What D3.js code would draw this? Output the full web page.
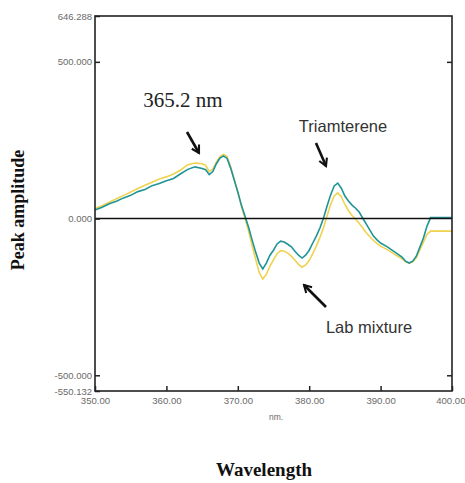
<!DOCTYPE html>
<html><head><meta charset="utf-8">
<script src="https://cdn.jsdelivr.net/npm/d3@7"></script>
<style>body{margin:0;background:#fff}</style>
</head><body>
<svg id="c" width="465" height="483"></svg>
<script>
const wavelengths=[350,351,352,353,354,355,356,357,358,359,360,361,362,363,364,365,
365.5,366,366.5,367,367.5,368,368.5,369,369.5,370,
370.5,371,371.5,372,372.5,373,373.5,374,374.5,375,
375.5,376,376.5,377,377.5,378,378.5,379,379.5,380,
380.5,381,381.5,382,382.5,383,383.5,384,384.5,385,
385.5,386,386.5,387,387.5,388,388.5,389,389.5,390,
391,392,393,
393.5,394,394.5,395,395.5,396,396.5,397,
398,399,400];
const triamterene=[27,36,47,55,66,74,86,93,105,112,121,128,143,157,165,160,
156,140,150,175,193,200,192,161,123,85,
43,8,-27,-68,-107,-142,-161,-142,-117,-101,
-81,-72,-75,-82,-90,-104,-117,-126,-117,-101,
-78,-56,-30,1,40,75,104,113,97,72,
56,43,33,21,1,-18,-37,-56,-68,-78,
-91,-107,-123,
-136,-142,-136,-120,-91,-62,-24,3,
3,3,3];
const labMixture=[32,41,52,63,74,85,96,106,116,126,133,142,155,172,177,175,
170,150,158,180,198,205,198,165,125,85,
40,2,-38,-85,-130,-172,-193,-178,-152,-132,
-112,-102,-104,-110,-120,-133,-146,-155,-148,-134,
-112,-88,-60,-30,8,45,72,82,70,45,
25,10,-2,-15,-30,-45,-58,-70,-80,-88,
-100,-115,-128,
-138,-142,-138,-125,-100,-75,-50,-40,
-40,-40,-40];
const xTicks=[350,360,370,380,390,400];
const xTickLabels=["350.00","360.00","370.00","380.00","390.00","400.00"];
const yTicks=[646.288,500,0,-500,-550.132];
const yTickLabels=["646.288","500.000","0.000","-500.000","-550.132"];
const yDomain=[-550.132,646.288];

const svg=d3.select("#c");
const L=95,R=452,T=16,B=391;
const x=d3.scaleLinear().domain([350,400]).range([L,R]);
const y=d3.scaleLinear().domain(yDomain).range([B,T]);

const line=d3.line().x((d,i)=>x(wavelengths[i])).y(d=>y(d));
svg.append("path").datum(labMixture).attr("d",line).attr("fill","none")
  .attr("stroke","#f0d24e").attr("stroke-width",1.6);
svg.append("path").datum(triamterene).attr("d",line).attr("fill","none")
  .attr("stroke","#1f9497").attr("stroke-width",1.6);

svg.append("line").attr("x1",L).attr("x2",R).attr("y1",y(0)).attr("y2",y(0))
  .attr("stroke","#111").attr("stroke-width",1.4);

svg.append("rect").attr("x",L).attr("y",T).attr("width",R-L).attr("height",B-T)
  .attr("fill","none").attr("stroke","#222").attr("stroke-width",1.6);

const yAxis=d3.axisLeft(y).tickValues(yTicks).tickSize(-5).tickPadding(3)
  .tickFormat((d,i)=>yTickLabels[i]);
const ga=svg.append("g").attr("transform",`translate(${L},0)`).call(yAxis);
const xAxis=d3.axisBottom(x).tickValues(xTicks).tickSize(-5).tickPadding(6)
  .tickFormat((d,i)=>xTickLabels[i]);
const gb=svg.append("g").attr("transform",`translate(0,${B})`).call(xAxis);
const ra=d3.axisRight(y).tickValues([500,-500]).tickSize(-5).tickFormat("");
const gc=svg.append("g").attr("transform",`translate(${R},0)`).call(ra);
[ga,gb,gc].forEach(g=>{
  g.select(".domain").remove();
  g.selectAll(".tick line").attr("stroke","#222").attr("stroke-width",1.5);
  g.selectAll(".tick text").attr("fill","#6a6a6a").style("font-family","Liberation Sans, Arial, sans-serif").style("font-size","9.5px");
});
gb.selectAll(".tick text").style("font-size","9.6px");
gb.selectAll(".tick text").filter(d=>d===400).attr("text-anchor","end").attr("dx",13);
svg.append("text").attr("x",276).attr("y",420).attr("text-anchor","middle")
  .attr("fill","#6a6a6a").style("font-family","Liberation Sans, Arial, sans-serif").style("font-size","8.5px").text("nm.");

svg.append("text").attr("transform","translate(24,210) rotate(-90)").attr("text-anchor","middle")
  .style("font-family","Liberation Serif, Times New Roman, serif").style("font-weight","bold").style("font-size","18px")
  .attr("fill","#111").text("Peak amplitude");
svg.append("text").attr("x",264).attr("y",476).attr("text-anchor","middle")
  .style("font-family","Liberation Serif, Times New Roman, serif").style("font-weight","bold").style("font-size","19px")
  .attr("fill","#111").text("Wavelength");

svg.append("defs").append("marker").attr("id","ah").attr("viewBox","0 0 10 10").attr("refX",8).attr("refY",5)
  .attr("markerWidth",4).attr("markerHeight",4).attr("orient","auto")
  .append("path").attr("d","M1,1 L8,5 L1,9").attr("fill","none").attr("stroke","#111").attr("stroke-width",2);
function arrow(x1,y1,x2,y2){
  svg.append("line").attr("x1",x1).attr("y1",y1).attr("x2",x2).attr("y2",y2)
    .attr("stroke","#111").attr("stroke-width",2.6).attr("marker-end","url(#ah)");
}
svg.append("text").attr("x",183).attr("y",107).attr("text-anchor","middle")
  .style("font-family","Liberation Serif, Times New Roman, serif").style("font-size","21px")
  .attr("fill","#222").text("365.2 nm");
arrow(187,132,199,153);
svg.append("text").attr("x",343).attr("y",132).attr("text-anchor","middle")
  .style("font-family","Liberation Sans, Arial, sans-serif").style("font-size","16.5px")
  .attr("fill","#333").text("Triamterene");
arrow(316,143,326,166);
svg.append("text").attr("x",369).attr("y",333).attr("text-anchor","middle")
  .style("font-family","Liberation Sans, Arial, sans-serif").style("font-size","16.5px")
  .attr("fill","#333").text("Lab mixture");
arrow(326,307,304,285);
</script>
</body></html>
